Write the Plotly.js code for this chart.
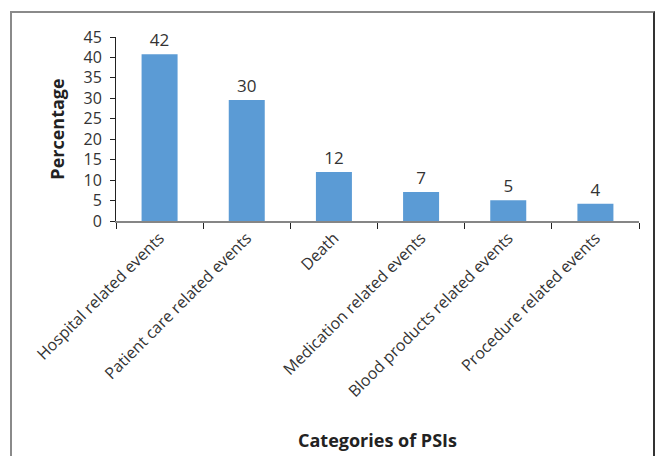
<!DOCTYPE html>
<html>
<head>
<meta charset="utf-8">
<script src="https://cdn.plot.ly/plotly-3.0.1.min.js"></script>
<style>
  html, body { margin: 0; padding: 0; background: #fff; }
  #frame { position: absolute; left: 10px; top: 11px; width: 641px; height: 460px;
           border-left: 2px solid #8a8a8a; border-top: 2px solid #8a8a8a; border-right: 2px solid #333; }
  #chart { position: absolute; left: 0; top: 0; width: 655px; height: 456px; }
</style>
</head>
<body>
<div id="frame"></div>
<div id="chart"></div>
<script>
const categories = [
  "Hospital related events",
  "Patient care related events",
  "Death",
  "Medication related events",
  "Blood products related events",
  "Procedure related events"
];
const barValues = [40.8, 29.6, 12, 7.1, 5.1, 4.2];
const barLabels = ["42", "30", "12", "7", "5", "4"];
const yTicks = [0, 5, 10, 15, 20, 25, 30, 35, 40, 45];

const FONT = '"Open Sans", "DejaVu Sans", sans-serif';

const trace = {
  type: "bar",
  x: categories,
  y: barValues,
  text: barLabels,
  textposition: "outside",
  cliponaxis: false,
  textfont: { family: FONT, size: 17, color: "#333333" },
  marker: { color: "#5B9BD5" },
  hoverinfo: "skip"
};

const layout = {
  width: 655,
  height: 456,
  margin: { l: 116, r: 16, t: 37, b: 235 },
  paper_bgcolor: "rgba(0,0,0,0)",
  plot_bgcolor: "rgba(0,0,0,0)",
  showlegend: false,
  bargap: 0.587,
  font: { family: FONT },
  xaxis: {
    type: "category",
    tickangle: -45,
    tickson: "boundaries",
    ticks: "outside",
    ticklen: 6,
    tickcolor: "#222",
    ticklabelstandoff: 0,
    showline: true,
    linecolor: "#868686",
    linewidth: 1.5,
    showgrid: false,
    zeroline: false,
    tickfont: { family: FONT, size: 16, color: "#333333" },
    title: { text: "<b>Categories of PSIs</b>", standoff: 34,
             font: { family: FONT, size: 18, color: "#222" } }
  },
  yaxis: {
    range: [0, 45],
    tickvals: yTicks,
    ticks: "outside",
    ticklen: 5,
    tickcolor: "#222",
    ticklabelstandoff: 5,
    showline: true,
    linecolor: "#222",
    linewidth: 1,
    showgrid: false,
    zeroline: false,
    tickfont: { family: FONT, size: 16, color: "#333333" },
    title: { text: "<b>Percentage</b>", standoff: 14,
             font: { family: FONT, size: 18, color: "#222" } }
  }
};

Plotly.newPlot("chart", [trace], layout, { displayModeBar: false, staticPlot: true });
</script>
</body>
</html>
